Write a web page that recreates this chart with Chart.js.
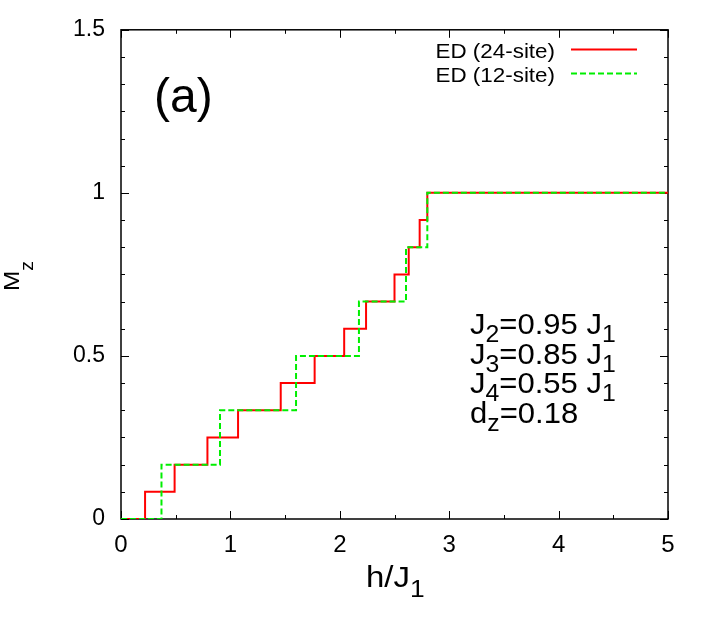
<!DOCTYPE html>
<html>
<head>
<meta charset="utf-8">
<script src="https://cdn.jsdelivr.net/npm/chart.js@4.4.1/dist/chart.umd.min.js"></script>
<style>
  html, body { margin: 0; padding: 0; background: #fff; }
  #wrap { width: 712px; height: 623px; }
</style>
</head>
<body>
<div id="wrap"><canvas id="mz" width="712" height="623"></canvas></div>
<script>
// magnetization steps, 24-site cluster
const field24 = [0, 0.22, 0.49, 0.79, 1.07, 1.46, 1.77, 2.04, 2.24, 2.50, 2.63, 2.73, 2.80, 5.0];
const mz24 = [0, 0.0833, 0.1667, 0.25, 0.3333, 0.4167, 0.5, 0.5833, 0.6667, 0.75, 0.8333, 0.9167, 1, 1];
// 12-site cluster
const field12 = [0, 0.37, 0.905, 1.60, 2.175, 2.605, 2.80, 5.0];
const mz12 = [0, 0.1667, 0.3333, 0.5, 0.6667, 0.8333, 1, 1];

const xTickLabels = ['0', '1', '2', '3', '4', '5'];
const yTickLabels = ['0', '0.5', '1', '1.5'];
const seriesNames = ['ED (24-site)', 'ED (12-site)'];
const paramLines = [
    [['J', 0], ['2', 1], ['=0.95 J', 0], ['1', 1]],
    [['J', 0], ['3', 1], ['=0.85 J', 0], ['1', 1]],
    [['J', 0], ['4', 1], ['=0.55 J', 0], ['1', 1]],
    [['d', 0], ['z', 1], ['=0.18', 0]]
];

const FONT = '"Liberation Sans", Arial, Helvetica, sans-serif';

function toPoints(xs, ys) {
    return xs.map((x, i) => ({x: x, y: ys[i]}));
}

// draw text with subscripts, stretched a bit horizontally like gnuplot output
function richText(ctx, segs, x, y, size, sx, align, subOff) {
    ctx.save();
    ctx.translate(x, y);
    ctx.scale(sx, 1);
    let total = 0;
    segs.forEach(s => {
        ctx.font = (s[1] ? size * 0.8 : size) + 'px ' + FONT;
        total += ctx.measureText(s[0]).width;
    });
    let cx = align === 'right' ? -total : 0;
    ctx.textBaseline = 'alphabetic';
    ctx.textAlign = 'left';
    ctx.fillStyle = '#000';
    segs.forEach(s => {
        ctx.font = (s[1] ? size * 0.8 : size) + 'px ' + FONT;
        ctx.fillText(s[0], cx, s[1] ? subOff : 0);
        cx += ctx.measureText(s[0]).width;
    });
    ctx.restore();
}

const decor = {
    id: 'decor',
    beforeDatasetsDraw(chart) {
        // frame and inward ticks on all four sides, under the curves
        const ctx = chart.ctx;
        const a = chart.chartArea;
        const xs = chart.scales.x, ys = chart.scales.y;
        ctx.save();
        ctx.strokeStyle = '#000';
        ctx.lineWidth = 1.5;
        ctx.strokeRect(a.left, a.top, a.right - a.left, a.bottom - a.top);
        ctx.lineWidth = 1;
        for (let i = 0; i <= 10; i++) {
            const v = i * 0.5;
            const px = Math.round(xs.getPixelForValue(v)) + 0.5;
            const len = i % 2 === 0 ? 8 : 4;
            ctx.beginPath();
            ctx.moveTo(px, a.bottom); ctx.lineTo(px, a.bottom - len);
            ctx.moveTo(px, a.top); ctx.lineTo(px, a.top + len);
            ctx.stroke();
        }
        for (let i = 0; i <= 18; i++) {
            const v = i / 12;
            const py = Math.round(ys.getPixelForValue(v)) + 0.5;
            const len = i % 6 === 0 ? 8 : 4;
            ctx.beginPath();
            ctx.moveTo(a.left, py); ctx.lineTo(a.left + len, py);
            ctx.moveTo(a.right, py); ctx.lineTo(a.right - len, py);
            ctx.stroke();
        }
        ctx.restore();
    },
    afterDraw(chart) {
        const ctx = chart.ctx;
        ctx.save();

        // legend
        const ds = chart.data.datasets;
        const legY = [57.5, 81.5];
        seriesNames.forEach((name, i) => {
            richText(ctx, [[name, 0]], 555, legY[i], 20, 1.12, 'right', 0);
            const d = ds.find(s => s.label === name);
            ctx.strokeStyle = d.borderColor;
            ctx.lineWidth = 2;
            ctx.setLineDash(d.borderDash || []);
            ctx.beginPath();
            ctx.moveTo(571, legY[i] - 8);
            ctx.lineTo(637, legY[i] - 8);
            ctx.stroke();
            ctx.setLineDash([]);
        });

        // panel label
        richText(ctx, [['(a)', 0]], 154, 112, 48, 1.0, 'left', 0);

        // parameters
        const py = [334, 363.5, 393, 423];
        paramLines.forEach((segs, i) => richText(ctx, segs, 470, py[i], 29, 1.07, 'left', 8));

        // axis titles
        richText(ctx, [['h/J', 0], ['1', 1]], 366, 587, 30, 1.1, 'left', 10);
        ctx.save();
        ctx.translate(19, 291);
        ctx.rotate(-Math.PI / 2);
        richText(ctx, [['M', 0], ['z', 1]], 0, 0, 22, 1.1, 'left', 14);
        ctx.restore();

        ctx.restore();
    }
};

new Chart(document.getElementById('mz').getContext('2d'), {
    type: 'line',
    data: {
        datasets: [{
            label: seriesNames[0],
            data: toPoints(field24, mz24),
            borderColor: '#ff0000',
            borderWidth: 2,
            stepped: 'before',
            pointRadius: 0,
            order: 1
        }, {
            label: seriesNames[1],
            data: toPoints(field12, mz12),
            borderColor: '#00ee00',
            borderWidth: 2,
            borderDash: [6, 3],
            stepped: 'before',
            pointRadius: 0,
            order: 0
        }]
    },
    options: {
        responsive: false,
        devicePixelRatio: 1,
        animation: false,
        layout: { padding: { left: 0, right: 44, top: 29, bottom: 0 } },
        plugins: { legend: { display: false }, tooltip: { enabled: false } },
        scales: {
            x: {
                type: 'linear',
                min: 0,
                max: 5,
                grid: { display: false, drawTicks: false },
                border: { display: false },
                ticks: {
                    stepSize: 1,
                    padding: 12,
                    color: '#000',
                    font: { family: FONT, size: 24 },
                    callback: (v) => xTickLabels[Math.round(v)]
                },
                afterFit: (s) => { s.height = 104; }
            },
            y: {
                min: 0,
                max: 1.5,
                grid: { display: false, drawTicks: false },
                border: { display: false },
                ticks: {
                    stepSize: 0.5,
                    padding: 16,
                    color: '#000',
                    font: { family: FONT, size: 23 },
                    callback: (v) => yTickLabels[Math.round(v * 2)]
                },
                afterFit: (s) => { s.width = 121; }
            }
        }
    },
    plugins: [decor]
});
</script>
</body>
</html>
